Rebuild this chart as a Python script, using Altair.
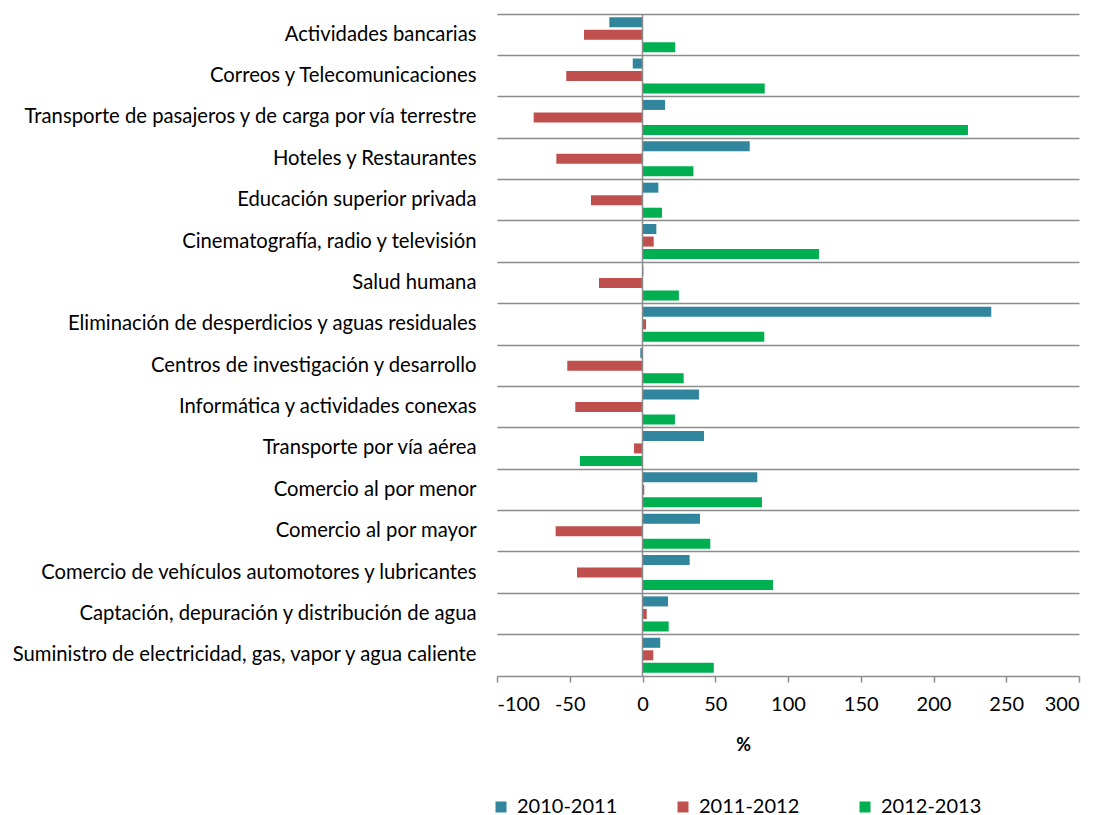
import altair as alt
import pandas as pd

categories = [
    "Actividades bancarias",
    "Correos y Telecomunicaciones",
    "Transporte de pasajeros y de carga por vía terrestre",
    "Hoteles y Restaurantes",
    "Educación superior privada",
    "Cinematografía, radio y televisión",
    "Salud humana",
    "Eliminación de desperdicios y aguas residuales",
    "Centros de investigación y desarrollo",
    "Informática y actividades conexas",
    "Transporte por vía aérea",
    "Comercio al por menor",
    "Comercio al por mayor",
    "Comercio de vehículos automotores y lubricantes",
    "Captación, depuración y distribución de agua",
    "Suministro de electricidad, gas, vapor y agua caliente",
]
v_2010_2011 = [-22.8, -6.7, 15.5, 73.7, 10.9, 9.5, 0.6, 239.7, -1.5, 38.8, 42.3, 78.9, 39.5, 32.4, 17.5, 12.2]
v_2011_2012 = [-40.2, -52.4, -74.8, -59.2, -35.4, 7.7, -29.9, 2.4, -51.7, -46.2, -5.8, 1.2, -59.7, -45.0, 2.9, 7.4]
v_2012_2013 = [22.5, 84.0, 223.7, 35.0, 13.4, 121.3, 25.0, 83.7, 28.3, 22.3, -43.0, 82.1, 46.6, 89.7, 18.0, 49.0]
series = ["2010-2011", "2011-2012", "2012-2013"]
colors = ["#31859C", "#C0504D", "#00B050"]
x_ticks = [-100, -50, 0, 50, 100, 150, 200, 250, 300]

rows = []
for i, c in enumerate(categories):
    for s, vals in zip(series, [v_2010_2011, v_2011_2012, v_2012_2013]):
        rows.append({"cat": c, "serie": s, "valor": vals[i]})
df = pd.DataFrame(rows)

FONT = "Lato"
GRID = "#8c8c8c"
FS = 20

bars = alt.Chart(df).mark_bar().encode(
    y=alt.Y(
        "cat:N",
        sort=categories,
        scale=alt.Scale(paddingInner=0, paddingOuter=0),
        axis=alt.Axis(
            title=None, grid=True, bandPosition=0, gridColor=GRID, gridWidth=1.5,
            domain=False, ticks=False, labelPadding=21, labelFontSize=20.25,
            labelFont=FONT, labelColor="black", labelLimit=700,
        ),
    ),
    yOffset=alt.YOffset("serie:N", sort=series,
                        scale=alt.Scale(paddingInner=0.2, paddingOuter=0.25)),
    x=alt.X(
        "valor:Q",
        scale=alt.Scale(domain=[-100, 300], nice=False, zero=False),
        axis=alt.Axis(
            values=x_ticks, title="%", grid=False, domainColor=GRID, domainWidth=1.5,
            tickColor=GRID, tickWidth=1.5, tickSize=6, labelFontSize=FS, labelFont=FONT,
            labelColor="black", labelPadding=12, labelExpr="'' + datum.value",
            titleFont=FONT, titleFontSize=FS - 2,
            titleFontWeight="bold", titleColor="black", titleX=246, titleY=60,
        ),
    ),
    color=alt.Color(
        "serie:N",
        sort=series,
        scale=alt.Scale(domain=series, range=colors),
        legend=alt.Legend(
            title=None, orient="none", legendX=-6, legendY=783, direction="horizontal",
            symbolType="square", symbolSize=121, symbolStrokeWidth=0,
            labelFontSize=FS, labelFont=FONT, labelColor="black", columnPadding=55,
            labelOffset=6,
        ),
    ),
)

zero = alt.Chart(pd.DataFrame({"cero": [0]})).mark_rule(color=GRID, strokeWidth=1.5).encode(
    x="cero:Q"
)

chart = alt.layer(bars, zero).properties(
    width=582, height=662,
    autosize=alt.AutoSizeParams(type="none"),
    padding={"left": 489, "top": 6, "right": 11, "bottom": 145},
).configure_view(stroke=None)

chart.save("out.html", embed_options={"renderer": "svg", "actions": False})
